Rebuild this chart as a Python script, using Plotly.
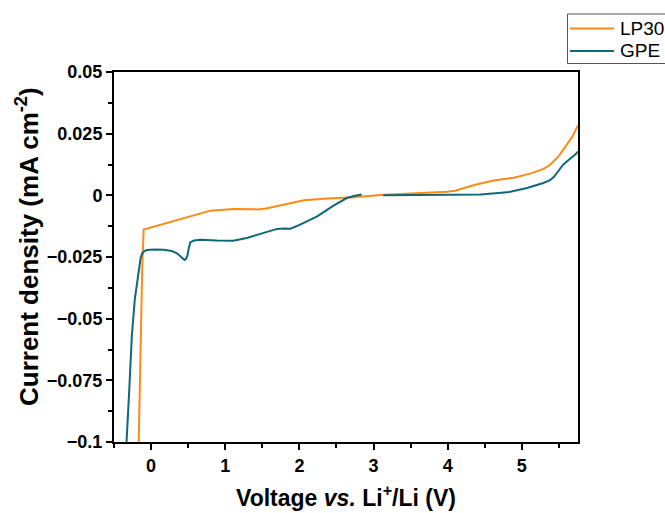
import plotly.graph_objects as go

# ---- data ----
lp30_v = [-0.17, -0.15, -0.12, -0.10, 0.05, 0.21, 0.48, 0.65, 0.80, 1.11, 1.43, 1.55, 1.65,
          1.83, 2.06, 2.37, 2.73, 3.09, 3.54, 3.99, 4.10, 4.17, 4.30, 4.40, 4.62, 4.89,
          5.00, 5.11, 5.22, 5.29, 5.37, 5.43, 5.50, 5.56, 5.62, 5.68, 5.72, 5.76]
lp30_j = [-0.105, -0.070, -0.030, -0.0139, -0.0126, -0.0112, -0.0088, -0.0073, -0.0062,
          -0.0055, -0.0057, -0.0053, -0.0047, -0.0035, -0.0020, -0.0013, -0.0008, 0.0001,
          0.0007, 0.0015, 0.0019, 0.0026, 0.0037, 0.0045, 0.0060, 0.0071, 0.0078, 0.0088,
          0.0099, 0.0107, 0.0121, 0.0138, 0.0160, 0.0186, 0.0210, 0.0238, 0.0262, 0.0285]

gpe_v = [-0.34, -0.33, -0.31, -0.29, -0.26, -0.22, -0.19, -0.17, -0.14, -0.12, -0.10, -0.06,
         0.05, 0.17, 0.28, 0.35, 0.41, 0.45, 0.47, 0.49, 0.51, 0.53, 0.58, 0.66, 0.89, 1.11,
         1.29, 1.52, 1.70, 1.80, 1.88, 2.01, 2.24, 2.46, 2.64, 2.75, 2.84, None, 3.13, 3.99,
         4.44, 4.80, 5.07, 5.29, 5.38, 5.43, 5.48, 5.52, 5.56, 5.61, 5.67, 5.72, 5.76]
gpe_j = [-0.105, -0.1003, -0.088, -0.0762, -0.0572, -0.0423, -0.0350, -0.0302, -0.0252,
         -0.0236, -0.0228, -0.0222, -0.0220, -0.0221, -0.0226, -0.0235, -0.0250, -0.0262,
         -0.0258, -0.0245, -0.0212, -0.0190, -0.0183, -0.0180, -0.0183, -0.0184, -0.0173,
         -0.0153, -0.0136, -0.0134, -0.0135, -0.0119, -0.0085, -0.0042, -0.0011, -0.0002,
         0.0003, None, 0.0, 0.0, 0.0003, 0.0012, 0.0030, 0.0050, 0.0062, 0.0074, 0.0094,
         0.0111, 0.0125, 0.0138, 0.0152, 0.0166, 0.0178]

series_names = ["LP30", "GPE"]

x_tickvals = [0, 1, 2, 3, 4, 5]
x_ticktext = ["0", "1", "2", "3", "4", "5"]
y_tickvals = [0.05, 0.025, 0, -0.025, -0.05, -0.075, -0.1]
y_ticktext = ["0.05", "0.025", "0", "\u22120.025", "\u22120.05", "\u22120.075", "\u22120.1"]

ORANGE = "#FF8A16"
TEAL = "#0E687A"
FONT = "Liberation Sans, Arial, sans-serif"

fig = go.Figure()
fig.add_trace(go.Scatter(x=lp30_v, y=lp30_j, mode="lines", name=series_names[0],
                         line=dict(color=ORANGE, width=2), showlegend=False))
fig.add_trace(go.Scatter(x=gpe_v, y=gpe_j, mode="lines", name=series_names[1],
                         line=dict(color=TEAL, width=2), connectgaps=False, showlegend=False))

axis_common = dict(showgrid=False, zeroline=False, showline=True, linecolor="black",
                   linewidth=2, mirror=True, ticks="outside", ticklen=6, tickwidth=2,
                   tickcolor="black",
                   tickfont=dict(family=FONT, size=18, color="black", weight="bold"))

fig.update_xaxes(range=[-0.5, 5.757], tickvals=x_tickvals, ticktext=x_ticktext,
                 minor=dict(dtick=0.5, tick0=-0.5, ticks="outside", ticklen=4,
                            tickwidth=2, tickcolor="black"),
                 title=dict(text="Voltage <i>vs.</i> Li<sup>+</sup>/Li (V)", standoff=15,
                            font=dict(family=FONT, size=23, color="black", weight="bold")),
                 **axis_common)
fig.update_yaxes(range=[-0.1, 0.05], tickvals=y_tickvals, ticktext=y_ticktext,
                 minor=dict(dtick=0.0125, tick0=0, ticks="outside", ticklen=4,
                            tickwidth=2, tickcolor="black"),
                 **axis_common)

L, T, W, H = 114, 72, 464, 370


def px(xp):
    return (xp - L) / W


def py(yp):
    return (T + H - yp) / H


# y-axis title placed as a rotated annotation so its position matches the reference
fig.add_annotation(xref="paper", yref="paper", x=px(27), y=py(247), textangle=-90,
                   text="<b>Current density (mA cm<sup>-2</sup>)</b>", showarrow=False,
                   xanchor="center", yanchor="middle",
                   font=dict(family=FONT, size=26, color="black"))

# ---- hand-built legend (box partly cut by the right edge, as in the reference) ----
fig.add_shape(type="rect", xref="paper", yref="paper", x0=px(567.5), x1=px(690),
              y0=py(63.5), y1=py(14), line=dict(color="#555555", width=1),
              fillcolor="white", layer="above")
for name, color, ypix in [(series_names[0], ORANGE, 28.5), (series_names[1], TEAL, 51)]:
    fig.add_shape(type="line", xref="paper", yref="paper", x0=px(570), x1=px(614),
                  y0=py(ypix), y1=py(ypix), line=dict(color=color, width=2), layer="above")
    fig.add_annotation(xref="paper", yref="paper", x=px(618), y=py(ypix), text=name,
                       showarrow=False, xanchor="left", yanchor="middle",
                       font=dict(family=FONT, size=19, color="black"))

fig.update_layout(
    width=665, height=513,
    margin=dict(l=L, r=665 - L - W, t=T, b=513 - T - H, autoexpand=False),
    paper_bgcolor="white", plot_bgcolor="white",
    font=dict(family=FONT, color="black"),
    showlegend=False,
)

fig.write_html("out.html")
